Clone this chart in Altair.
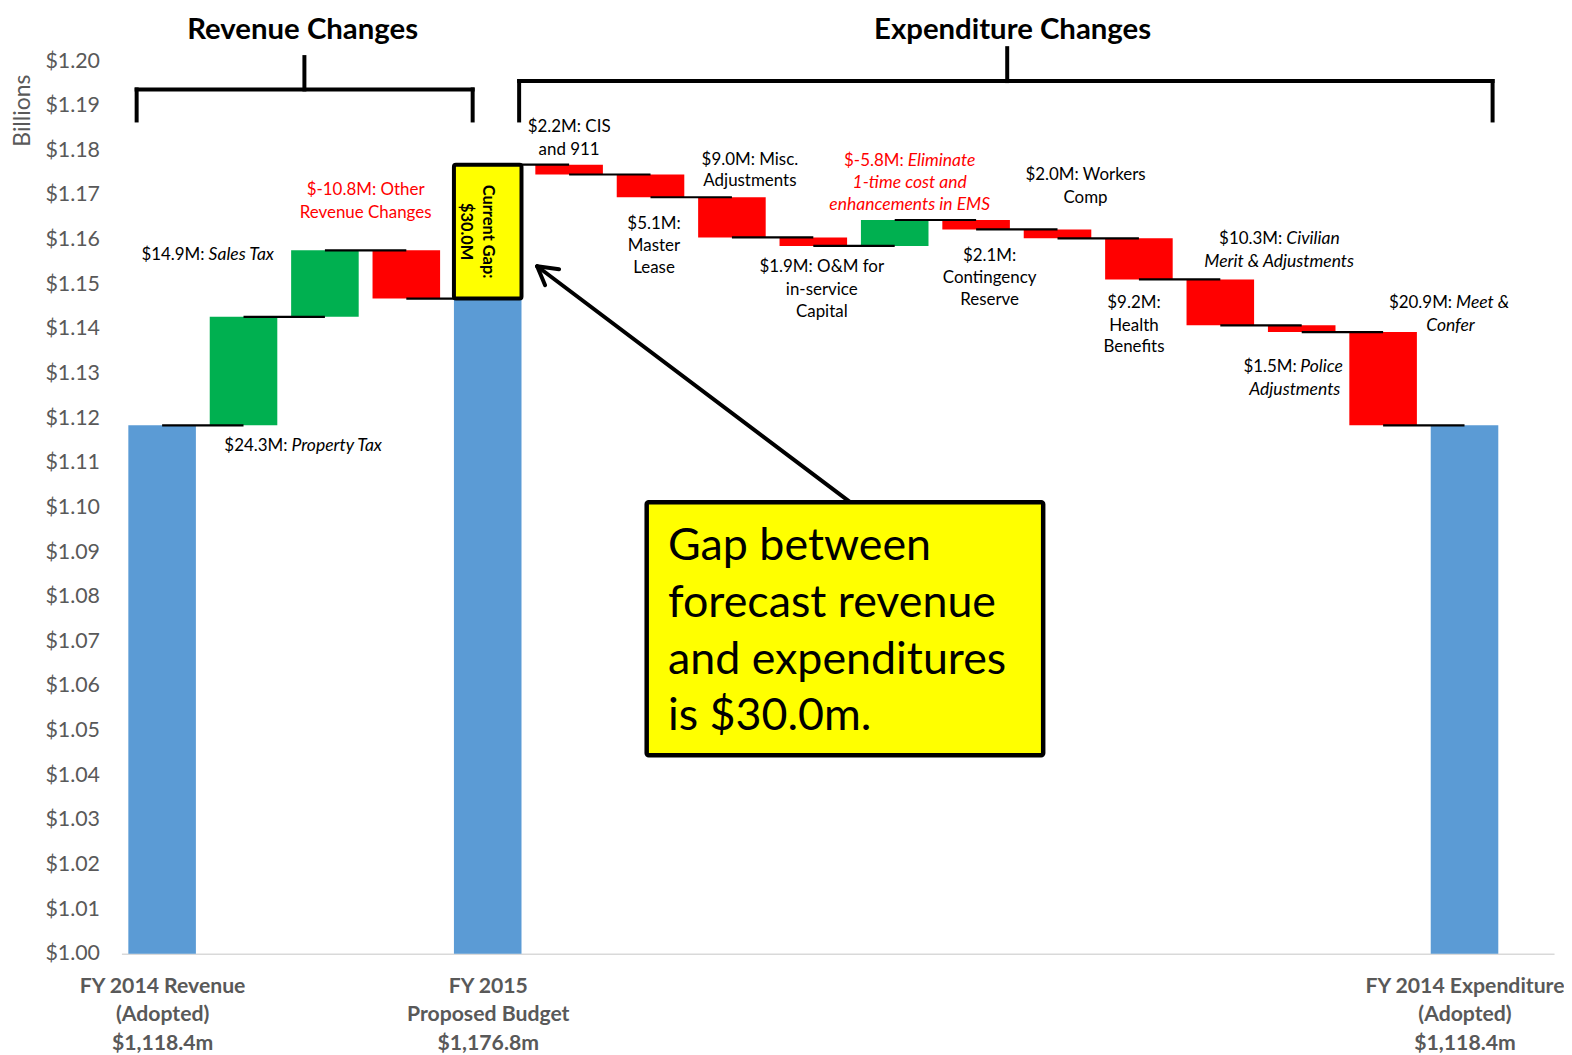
import altair as alt
import pandas as pd

FONT = "Lato"

# ---------------- data (millions of dollars) ----------------
steps = [
    "FY 2014 Revenue (Adopted)", "Property Tax", "Sales Tax", "Other Revenue Changes",
    "FY 2015 Proposed Budget", "CIS and 911", "Master Lease", "Misc. Adjustments",
    "O&M for in-service Capital", "Eliminate 1-time cost and enhancements in EMS",
    "Contingency Reserve", "Workers Comp", "Health Benefits",
    "Civilian Merit & Adjustments", "Police Adjustments", "Meet & Confer",
    "FY 2014 Expenditure (Adopted)",
]
amounts_m = [1118.4, 24.3, 14.9, -10.8, 1176.8, -2.2, -5.1, -9.0, -1.9, 5.8,
             -2.1, -2.0, -9.2, -10.3, -1.5, -20.9, 1118.4]
step_type = ["total", "change", "change", "change", "budget", "change", "change",
             "change", "change", "change", "change", "change", "change", "change",
             "change", "change", "total"]

axis_label_lines = {
    0: ["FY 2014 Revenue", "(Adopted)"],
    4: ["FY 2015", "Proposed Budget"],
    16: ["FY 2014 Expenditure", "(Adopted)"],
}

RED = "#FF0000"
BLK = "#000000"
# bar annotations: text, x (step units), y (billions), style, align, colour
label_lines = [
    ("$24.3M:", 1.540, 1.11383, "normal", "right", BLK),
    ("Property Tax", 1.589, 1.11383, "italic", "left", BLK),
    ("$14.9M:", 0.521, 1.15657, "normal", "right", BLK),
    ("Sales Tax", 0.571, 1.15657, "italic", "left", BLK),
    ("$-10.8M: Other", 2.50, 1.17101, "normal", "center", RED),
    ("Revenue Changes", 2.50, 1.16592, "normal", "center", RED),
    ("$2.2M: CIS", 5.000, 1.18520, "normal", "center", BLK),
    ("and 911", 5.000, 1.18011, "normal", "center", BLK),
    ("$5.1M:", 6.043, 1.16352, "normal", "center", BLK),
    ("Master", 6.043, 1.15868, "normal", "center", BLK),
    ("Lease", 6.043, 1.15365, "normal", "center", BLK),
    ("$9.0M: Misc.", 7.221, 1.17774, "normal", "center", BLK),
    ("Adjustments", 7.221, 1.17303, "normal", "center", BLK),
    ("$1.9M: O&M for", 8.104, 1.15397, "normal", "center", BLK),
    ("in-service", 8.104, 1.14872, "normal", "center", BLK),
    ("Capital", 8.104, 1.14388, "normal", "center", BLK),
    ("$-5.8M:", 9.110, 1.17751, "normal", "right", RED),
    ("Eliminate", 9.160, 1.17751, "italic", "left", RED),
    ("1-time cost and", 9.184, 1.17265, "italic", "center", RED),
    ("enhancements in EMS", 9.184, 1.16778, "italic", "center", RED),
    ("$2.1M:", 10.166, 1.15628, "normal", "center", BLK),
    ("Contingency", 10.166, 1.15141, "normal", "center", BLK),
    ("Reserve", 10.166, 1.14657, "normal", "center", BLK),
    ("$2.0M: Workers", 11.344, 1.17451, "normal", "center", BLK),
    ("Comp", 11.344, 1.16935, "normal", "center", BLK),
    ("$9.2M:", 11.939, 1.14581, "normal", "center", BLK),
    ("Health", 11.939, 1.14074, "normal", "center", BLK),
    ("Benefits", 11.939, 1.13587, "normal", "center", BLK),
    ("$10.3M:", 13.761, 1.16016, "normal", "right", BLK),
    ("Civilian", 13.810, 1.16016, "italic", "left", BLK),
    ("Merit & Adjustments", 13.723, 1.15509, "italic", "center", BLK),
    ("$1.5M:", 13.939, 1.13155, "normal", "right", BLK),
    ("Police", 13.982, 1.13155, "italic", "left", BLK),
    ("Adjustments", 13.915, 1.12639, "italic", "center", BLK),
    ("$20.9M:", 15.847, 1.14581, "normal", "right", BLK),
    ("Meet &", 15.896, 1.14581, "italic", "left", BLK),
    ("Confer", 15.828, 1.14074, "italic", "center", BLK),
]

section_titles = ["Revenue Changes", "Expenditure Changes"]
section_title_x = [1.726, 10.448]
section_title_y = [1.2070, 1.2070]

# bracket segments (x, y, x2, y2) in step units / billions
bracket_segments = [
    (-0.313, 1.19365, 3.815, 1.19365), (-0.313, 1.19365, -0.313, 1.18670),
    (3.815, 1.19365, 3.815, 1.18670), (1.748, 1.19365, 1.748, 1.20090),
    (4.386, 1.19552, 16.345, 1.19552), (4.386, 1.19552, 4.386, 1.18670),
    (16.345, 1.19552, 16.345, 1.18670), (10.382, 1.19552, 10.382, 1.20290),
]
arrow_segments = [
    (8.485, 1.10074, 4.607, 1.15404),
    (4.607, 1.15404, 4.877, 1.15336),
    (4.607, 1.15404, 4.705, 1.14978),
]
callout_box = (5.953, 1.10119, 10.824, 1.04447)
callout_lines = ["Gap between", "forecast revenue", "and expenditures", "is $30.0m."]
callout_x = 6.215
callout_y = [1.09126, 1.07859, 1.06592, 1.05325]

# ---------------- build tables ----------------
bars, conns = [], []
level = 0.0
gap_row = None
for i, (name, amt, t) in enumerate(zip(steps, amounts_m, step_type)):
    if t == "total":
        bars.append(dict(idx=i, start=0.0, end=amt / 1000, kind="total"))
        level = amt
    elif t == "budget":
        bars.append(dict(idx=i, start=0.0, end=level / 1000, kind="total"))
        gap_row = dict(idx=i, start=level / 1000, end=amt / 1000, gap=amt - level)
        level = amt
    else:
        new = level + amt
        bars.append(dict(idx=i, start=level / 1000, end=new / 1000,
                         kind="increase" if amt > 0 else "decrease"))
        level = new
    if i < len(steps) - 1:
        conns.append(dict(idx=i, idx2=i + 1, level=level / 1000))

bars_df = pd.DataFrame(bars)
conn_df = pd.DataFrame(conns)
gap_df = pd.DataFrame([gap_row])
gap_df["mid"] = (gap_df["start"] + gap_df["end"]) / 2
gap_text = ["Current Gap:", "${:.1f}M".format(gap_row["gap"])]

labels_df = pd.DataFrame(label_lines, columns=["text", "x", "y", "style", "align", "color"])
titles_df = pd.DataFrame({"text": section_titles, "x": section_title_x, "y": section_title_y})
brackets_df = pd.DataFrame(bracket_segments, columns=["x", "y", "x2", "y2"])
arrow_df = pd.DataFrame(arrow_segments, columns=["x", "y", "x2", "y2"])
box_df = pd.DataFrame([dict(x=callout_box[0], y=callout_box[1], x2=callout_box[2], y2=callout_box[3])])
callout_df = pd.DataFrame({"text": callout_lines, "x": callout_x, "y": callout_y})

# axis label expression
parts = []
for i, lines in axis_label_lines.items():
    full = lines + ["${:,.1f}m".format(amounts_m[i])]
    arr = "[" + ", ".join("'" + s + "'" for s in full) + "]"
    parts.append(f"datum.value == {i} ? {arr} : ")
label_expr = "".join(parts) + "''"

# ---------------- scales / axes ----------------
xs = alt.Scale(domain=[-0.5, 17.1], nice=False, zero=False)
ys = alt.Scale(domain=[1.0, 1.2104], nice=False, zero=False)
x_axis = alt.Axis(values=list(axis_label_lines.keys()), labelExpr=label_expr, grid=False,
                  ticks=False, tickSize=0, domain=True, domainColor="#D9D9D9", domainWidth=1.5,
                  labelFont=FONT, labelFontSize=21.3, labelFontWeight="bold", labelColor="#595959",
                  labelPadding=22, labelLineHeight=28.5, labelOverlap=False, labelFlush=False,
                  labelBound=False, labelLimit=400, title=None)
y_axis = alt.Axis(values=[round(1.0 + 0.01 * k, 2) for k in range(21)], format="$.2f",
                  grid=False, ticks=False, tickSize=0, domain=False, labelFont=FONT,
                  labelFontSize=21.5, labelColor="#595959", labelPadding=22,
                  title="Billions", titleFont=FONT, titleFontSize=23, titleFontWeight="normal",
                  titleColor="#595959", titleAngle=270, titleX=-99, titleY=96,
                  titleAlign="center", titleBaseline="middle")


def X(f):
    return alt.X(f, type="quantitative", scale=xs, axis=x_axis)


def Y(f):
    return alt.Y(f, type="quantitative", scale=ys, axis=y_axis)


HALF = 0.415

bar_layer = alt.Chart(bars_df).mark_rect(clip=True).transform_calculate(
    x0=f"datum.idx - {HALF}", x1=f"datum.idx + {HALF}"
).encode(
    x=X("x0"), x2="x1:Q", y=Y("start"), y2="end:Q",
    color=alt.Color("kind:N", legend=None,
                    scale=alt.Scale(domain=["total", "increase", "decrease"],
                                    range=["#5B9BD5", "#00B050", "#FF0000"])),
)

conn_layer = alt.Chart(conn_df).mark_rule(color="black", strokeWidth=2.2).encode(
    x=X("idx"), x2="idx2:Q", y=Y("level"))

gap_box = alt.Chart(gap_df).mark_rect(fill="#FFFF00", stroke="black", strokeWidth=4,
                                      cornerRadius=2).transform_calculate(
    x0=f"datum.idx - {HALF}", x1=f"datum.idx + {HALF}"
).encode(x=X("x0"), x2="x1:Q", y=Y("start"), y2="end:Q")

gap_label = alt.Chart(gap_df).mark_text(angle=90, font=FONT, fontSize=16.5, fontWeight="bold",
                                        color="black", align="center", baseline="middle",
                                        lineHeight=22).encode(
    x=X("idx"), y=Y("mid"), text=alt.value(gap_text))


def label_layer(style, align):
    size = 17.6 if style == "italic" else 17
    return alt.Chart(labels_df).transform_filter(
        f"datum.style == '{style}' && datum.align == '{align}'"
    ).mark_text(font=FONT, fontSize=size, fontStyle=style, align=align, baseline="middle").encode(
        x=X("x"), y=Y("y"), text="text:N", color=alt.Color("color:N", scale=None))


labels = [label_layer("normal", "center"), label_layer("normal", "right"),
          label_layer("italic", "left"), label_layer("italic", "center")]

title_layer = alt.Chart(titles_df).mark_text(font=FONT, fontSize=29.5, fontWeight="bold",
                                             color="black", baseline="middle").encode(
    x=X("x"), y=Y("y"), text="text:N")

bracket_layer = alt.Chart(brackets_df).mark_rule(color="black", strokeWidth=4,
                                                 strokeCap="square").encode(
    x=X("x"), y=Y("y"), x2="x2:Q", y2="y2:Q")

arrow_layer = alt.Chart(arrow_df).mark_rule(color="black", strokeWidth=4,
                                            strokeCap="round").encode(
    x=X("x"), y=Y("y"), x2="x2:Q", y2="y2:Q")

box_layer = alt.Chart(box_df).mark_rect(fill="#FFFF00", stroke="black", strokeWidth=4.5,
                                        cornerRadius=2).encode(
    x=X("x"), y=Y("y"), x2="x2:Q", y2="y2:Q")

callout_layer = alt.Chart(callout_df).mark_text(font=FONT, fontSize=45, color="black",
                                                align="left", baseline="middle").encode(
    x=X("x"), y=Y("y"), text="text:N")

chart = alt.layer(
    bar_layer, conn_layer, gap_box, gap_label, *labels, bracket_layer, title_layer,
    arrow_layer, box_layer, callout_layer,
).properties(
    width=1440, height=944,
    autosize=alt.AutoSizeParams(type="none"),
    padding={"left": 114, "top": 4, "right": 10, "bottom": 106},
).configure_view(stroke=None)

chart.save("out.html", embed_options={"renderer": "svg", "actions": False})
